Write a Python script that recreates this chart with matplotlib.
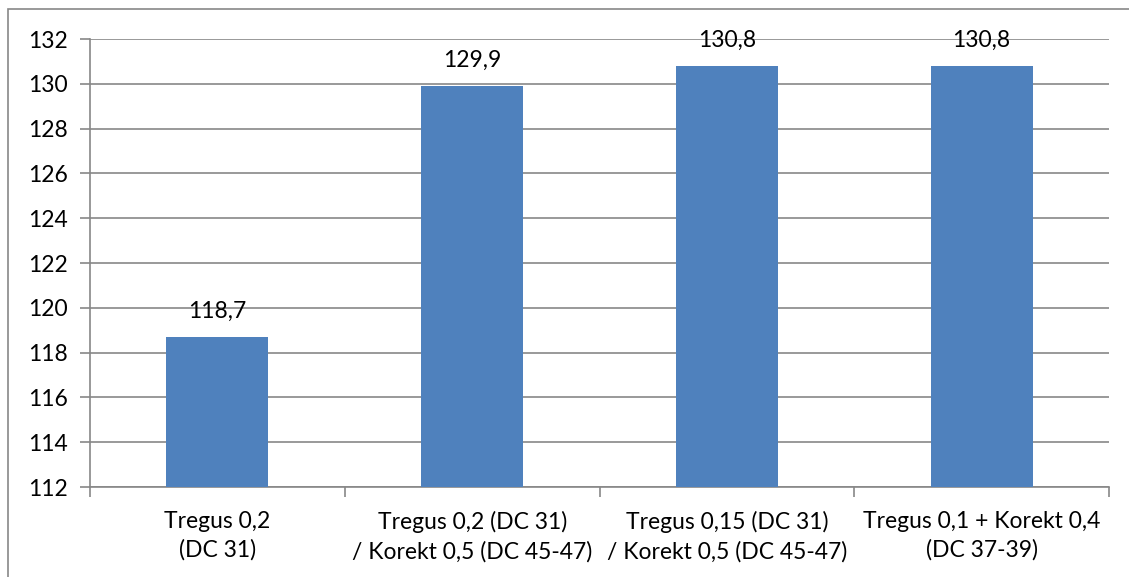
import matplotlib
matplotlib.use('Agg')
from matplotlib import pyplot as plt
from matplotlib.patches import Rectangle

categories = ['Tregus 0,2\n(DC 31)',
              'Tregus 0,2 (DC 31)\n/ Korekt 0,5 (DC 45-47)',
              'Tregus 0,15 (DC 31)\n/ Korekt 0,5 (DC 45-47)',
              'Tregus 0,1 + Korekt 0,4\n(DC 37-39)']
values = [118.7, 129.9, 130.8, 130.8]
yticks = [112, 114, 116, 118, 120, 122, 124, 126, 128, 130, 132]

plt.rcParams['font.family'] = ['Lato', 'DejaVu Sans']
grey = '#878787'
fs = 16.5

W, H = 1129, 577
fig = plt.figure(figsize=(W / 100, H / 100), dpi=100)
fig.patches.append(Rectangle((8 / W, -0.05), 1.2, 1 - 9 / H + 0.05,
                             transform=fig.transFigure, fill=False,
                             edgecolor=grey, linewidth=1.2))
ax = fig.add_axes([90 / W, 90 / H, (1109 - 90) / W, (487 - 39) / H])

x = list(range(len(values)))
ax.bar(x, values, width=0.4, color='#4F81BD', zorder=3, bottom=0)
ax.set_ylim(112, 132)
ax.set_xlim(-0.5, len(values) - 0.5)
ax.set_yticks(yticks)
ax.set_yticklabels([str(t) for t in yticks])
ax.yaxis.grid(True, color=grey, linewidth=1.2, zorder=0)

for i, v in enumerate(values):
    ax.annotate(str(v).replace('.', ','), (i, v), xytext=(0, 11),
                textcoords='offset points', ha='center', va='bottom',
                fontsize=fs, zorder=4)

# category labels between boundary ticks
ax.set_xticks([i - 0.5 for i in range(len(values) + 1)])
ax.set_xticklabels([])
ax.set_xticks(x, minor=True)
ax.set_xticklabels(categories, minor=True, fontsize=fs, linespacing=1.45)
ax.tick_params(axis='x', which='minor', length=0, pad=17)
ax.tick_params(axis='x', which='major', length=7, width=1.2, color=grey)
ax.tick_params(axis='y', length=7, width=1.2, color=grey, labelsize=fs, pad=9)

for s in ['top', 'right']:
    ax.spines[s].set_visible(False)
for s in ['left', 'bottom']:
    ax.spines[s].set_color(grey)
    ax.spines[s].set_linewidth(1.2)

fig.savefig('out.png', dpi=100)
